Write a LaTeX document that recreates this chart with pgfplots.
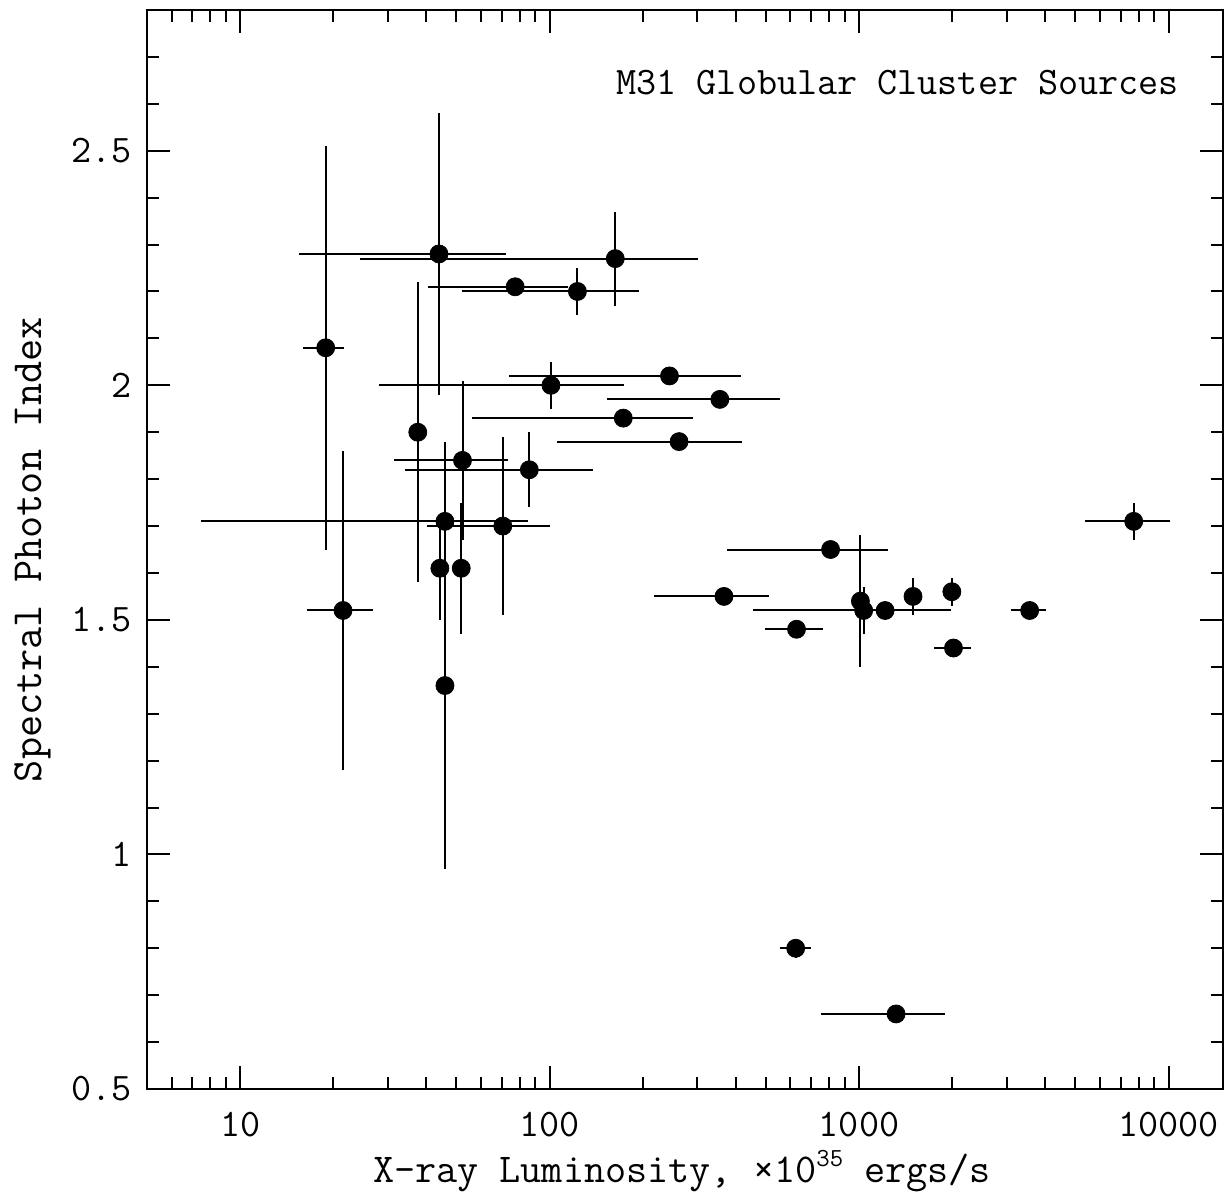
\documentclass[border=0pt]{standalone}
\usepackage{pgfplots}
\pgfplotsset{compat=1.18}
\usepackage{pgfplotstable}
\usetikzlibrary{calc}

\pgfplotstableread{
x     y     xem    xep    yem   yep
18.9  2.08  2.9    2.8    0.43  0.43
43.9  2.28  28.4   28.5   0.30  0.30
77.4  2.21  37.0   37.5   0.01  0.01
123   2.20  70.8   71     0.05  0.05
163   2.27  138.6  138    0.10  0.10
101   2.00  73     73.5   0.05  0.05
244   2.02  170    171    0.01  0.01
355   1.97  202    199    0.01  0.01
173   1.93  117    117    0.01  0.01
262   1.88  156    157    0.01  0.01
37.5  1.90  0      0      0.32  0.32
52.3  1.84  21     21     0.17  0.17
86    1.82  52     52     0.08  0.08
45.9  1.71  38.4   39.3   0.17  0.17
70.6  1.70  30.3   29.4   0.19  0.19
44.2  1.61  0      0      0.11  0.11
51.8  1.61  0      0      0.14  0.14
45.9  1.36  0      0      0.39  0.39
21.5  1.52  5.1    5.3    0.34  0.34
809   1.65  435    435    0.01  0.01
366   1.55  148    145    0.01  0.01
628   1.48  131    136    0.01  0.01
1010  1.54  0      0      0.14  0.14
1035  1.52  580    946    0.05  0.05
1214  1.52  0      0      0.01  0.01
1494  1.55  0      0      0.04  0.04
1995  1.56  0      0      0.03  0.03
2019  1.44  278    289    0.01  0.01
3559  1.52  467    466    0.01  0.01
7719  1.71  2353   2415   0.04  0.04
624   0.80  70     73     0.02  0.02
1317  0.66  562    578    0.01  0.01
}\data

\begin{document}
\begin{tikzpicture}
\begin{axis}[
  scale only axis, width=538pt, height=539.5pt,
  xmode=log, log basis x=10,
  xmin=5, xmax=15000, ymin=0.5, ymax=2.8,
  xtick={10,100,1000,10000}, xticklabels={10,100,1000,10000},
  minor xtick={6,7,8,9,20,30,40,50,60,70,80,90,200,300,400,500,600,700,800,900,2000,3000,4000,5000,6000,7000,8000,9000},
  ytick={0.5,1,1.5,2,2.5}, yticklabels={0.5,1,1.5,2,2.5},
  minor ytick={0.6,0.7,0.8,0.9,1.1,1.2,1.3,1.4,1.6,1.7,1.8,1.9,2.1,2.2,2.3,2.4,2.6,2.7},
  tick align=inside, major tick length=11.5pt, minor tick length=6pt,
  axis line style={line width=1.2pt},
  every tick/.style={black, line width=1pt},
  tick label style={font=\fontsize{19.5}{22}\selectfont\ttfamily},
  xticklabel style={yshift=-8pt},
  yticklabel style={xshift=-4pt},
  clip=false,
]
\addplot[only marks, mark=*, mark size=4.5pt, black,
  error bars/.cd, x dir=both, x explicit, y dir=both, y explicit,
  error mark=none, error bar style={line width=1pt, black}]
  table[x=x, y=y, x error minus=xem, x error plus=xep, y error minus=yem, y error plus=yep]{\data};
\node[font=\fontsize{19.5}{22}\selectfont\ttfamily, anchor=east] at (rel axis cs:0.9656,0.933) {M31 Globular Cluster Sources};
\coordinate (LL) at (rel axis cs:0,0);
\coordinate (UR) at (rel axis cs:1,1);
\end{axis}
\node[font=\fontsize{20.5}{24}\selectfont\ttfamily, anchor=base] at ($(LL)+(267.5pt,-46.5pt)$) {X-ray Luminosity, \texttimes10\raisebox{0.38em}{\fontsize{13}{14}\selectfont 35} ergs/s};
\node[font=\fontsize{21.5}{24}\selectfont\ttfamily, anchor=base, rotate=90] at ($(LL)+(-52.5pt,269.75pt)$) {Spectral Photon Index};
\pgfresetboundingbox
\path ($(LL)+(-73.5pt,-53pt)$) rectangle ($(UR)+(4pt,5pt)$);
\end{tikzpicture}
\end{document}
